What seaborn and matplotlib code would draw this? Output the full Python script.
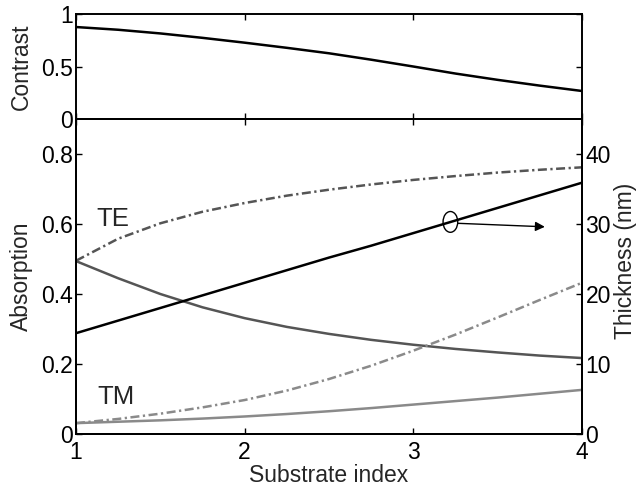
import matplotlib
matplotlib.use("Agg")
import matplotlib.pyplot as plt
from matplotlib.patches import Ellipse
import pandas as pd
import seaborn as sns

# Substrate refractive index samples
n_sub = [1.0, 1.25, 1.5, 1.75, 2.0, 2.25, 2.5, 2.75, 3.0, 3.25, 3.5, 3.75, 4.0]

# Polarisation contrast (top panel)
contrast = [0.876, 0.850, 0.815, 0.773, 0.727, 0.678, 0.626, 0.565, 0.500,
            0.433, 0.373, 0.318, 0.267]

# Absorption, TE (solid and dash-dot)
te_solid = [0.494, 0.445, 0.400, 0.362, 0.331, 0.306, 0.286, 0.269, 0.255,
            0.243, 0.233, 0.224, 0.217]
te_dashdot = [0.495, 0.558, 0.602, 0.635, 0.660, 0.681, 0.698, 0.713, 0.726,
              0.737, 0.747, 0.755, 0.762]

# Absorption, TM (solid and dash-dot)
tm_solid = [0.031, 0.035, 0.039, 0.044, 0.050, 0.057, 0.065, 0.074, 0.084,
            0.094, 0.104, 0.115, 0.126]
tm_dashdot = [0.031, 0.043, 0.058, 0.076, 0.097, 0.124, 0.157, 0.195, 0.238,
              0.284, 0.333, 0.383, 0.432]

# Film thickness in nm (right axis)
thickness = [14.4, 16.2, 18.0, 19.8, 21.6, 23.4, 25.2, 26.9, 28.7, 30.5,
             32.3, 34.1, 35.9]

df = pd.DataFrame({
    "n": n_sub, "contrast": contrast,
    "te_solid": te_solid, "te_dashdot": te_dashdot,
    "tm_solid": tm_solid, "tm_dashdot": tm_dashdot,
    "thickness": thickness,
})

sns.set_theme(style="white")
plt.rcParams["font.family"] = ["Liberation Sans", "DejaVu Sans"]
plt.rcParams["axes.edgecolor"] = "black"
plt.rcParams["axes.linewidth"] = 1.4

FS = 16.5
DASHDOT = (0, (3.6, 1.4, 0.9, 1.4))
DARK = "#555555"
LIGHT = "#8a8a8a"

fig = plt.figure(figsize=(6.36, 4.88), dpi=100)
ax_c = fig.add_axes([0.1195, 0.7561, 0.7955, 0.2152])
ax_a = fig.add_axes([0.1195, 0.1107, 0.7955, 0.6454])
ax_t = ax_a.twinx()

# Top panel: contrast
sns.lineplot(data=df, x="n", y="contrast", ax=ax_c, color="black", lw=1.8)
ax_c.set_xlim(1, 4)
ax_c.set_ylim(0, 1)
ax_c.set_xticks([1, 2, 3, 4])
ax_c.set_xticklabels([])
ax_c.set_yticks([0, 0.5, 1])
ax_c.set_yticklabels(["0", "0.5", "1"])
ax_c.set_xlabel("")
ax_c.set_ylabel("Contrast", fontsize=FS)
ax_c.tick_params(direction="in", length=4, width=1, colors="black",
                 labelsize=FS, pad=2.5, top=True, right=True,
                 bottom=True, left=True)

# Bottom panel: absorption curves
sns.lineplot(data=df, x="n", y="te_dashdot", ax=ax_a, color=DARK, lw=1.8,
             linestyle=DASHDOT)
sns.lineplot(data=df, x="n", y="te_solid", ax=ax_a, color=DARK, lw=1.8)
sns.lineplot(data=df, x="n", y="tm_dashdot", ax=ax_a, color=LIGHT, lw=1.8,
             linestyle=DASHDOT)
sns.lineplot(data=df, x="n", y="tm_solid", ax=ax_a, color=LIGHT, lw=1.8)
ax_a.set_xlim(1, 4)
ax_a.set_ylim(0, 0.9)
ax_a.set_xticks([1, 2, 3, 4])
ax_a.set_xticklabels(["1", "2", "3", "4"])
ax_a.set_yticks([0, 0.2, 0.4, 0.6, 0.8])
ax_a.set_yticklabels(["0", "0.2", "0.4", "0.6", "0.8"])
ax_a.set_xlabel("Substrate index", fontsize=FS, labelpad=0)
ax_a.set_ylabel("Absorption", fontsize=FS)
ax_a.tick_params(direction="in", length=4, width=1, colors="black",
                 labelsize=FS, pad=2.5, top=True, bottom=True, left=True,
                 right=False)
ax_a.tick_params(axis="x", pad=5)

ax_a.text(1.22, 0.615, "TE", fontsize=18.5, ha="center", va="center")
ax_a.text(1.24, 0.105, "TM", fontsize=18.5, ha="center", va="center")

# Right axis: thickness
sns.lineplot(data=df, x="n", y="thickness", ax=ax_t, color="black", lw=1.8)
ax_t.set_ylim(0, 45)
ax_t.set_yticks([0, 10, 20, 30, 40])
ax_t.set_yticklabels(["0", "10", "20", "30", "40"])
ax_t.set_ylabel("Thickness (nm)", fontsize=FS)
ax_t.tick_params(direction="in", length=4, width=1, colors="black",
                 labelsize=FS, pad=2.5)

ax_t.add_patch(Ellipse((3.22, 30.3), 0.087, 2.97, fill=False,
                       edgecolor="black", lw=1.0))
ax_t.annotate("", xy=(3.78, 29.6), xytext=(3.265, 30.1),
              arrowprops=dict(arrowstyle="-|>", color="black", lw=1.0,
                              mutation_scale=14, shrinkA=0, shrinkB=0))

for a in (ax_c, ax_a, ax_t):
    for s in a.spines.values():
        s.set_color("black")
        s.set_linewidth(1.4)
    a.set_xlabel(a.get_xlabel())

ax_c.yaxis.set_label_coords(-0.085, 0.5)
ax_a.yaxis.set_label_coords(-0.085, 0.5)
ax_t.yaxis.set_label_coords(1.063, 0.55)

fig.savefig("out.png", dpi=100)
